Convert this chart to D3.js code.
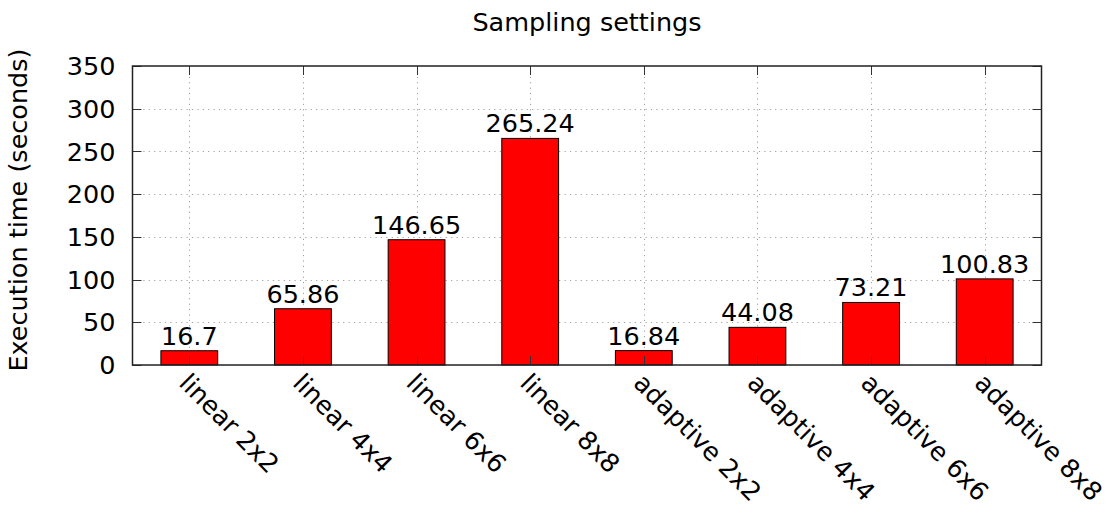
<!DOCTYPE html>
<html>
<head>
<meta charset="utf-8">
<script src="https://cdn.jsdelivr.net/npm/d3@7"></script>
<style>
  html, body { margin: 0; padding: 0; background: #fff; }
  svg { display: block; font-family: "DejaVu Sans", sans-serif; }
</style>
</head>
<body>
<svg id="chart" width="1107" height="506"></svg>
<script>
// Execution time per sampling configuration
const categories = ["linear 2x2", "linear 4x4", "linear 6x6", "linear 8x8",
                    "adaptive 2x2", "adaptive 4x4", "adaptive 6x6", "adaptive 8x8"];
const times = [16.7, 65.86, 146.65, 265.24, 16.84, 44.08, 73.21, 100.83];
const timeLabels = ["16.7", "65.86", "146.65", "265.24", "16.84", "44.08", "73.21", "100.83"];
const yTicks = [0, 50, 100, 150, 200, 250, 300, 350];

const W = 1107, H = 506;
const margin = { left: 132.5, right: W - 1041.5, top: 66, bottom: H - 365 };
const fontSize = 25.5;
const svg = d3.select("#chart");

const x = d3.scaleLinear().domain([-0.5, categories.length - 0.5])
  .range([margin.left, W - margin.right]);
const y = d3.scaleLinear().domain([0, 350]).range([H - margin.bottom, margin.top]);
const barW = x(0.5) - x(0);
const tickLen = 9;

// grid
const grid = svg.append("g").attr("stroke", "#a0a0a0").attr("stroke-width", 1)
  .attr("stroke-dasharray", "1.2,4.2");
grid.selectAll("line.h").data(yTicks.slice(1, -1)).join("line")
  .attr("x1", x.range()[0]).attr("x2", x.range()[1])
  .attr("y1", d => Math.round(y(d)) + 0.5).attr("y2", d => Math.round(y(d)) + 0.5);
grid.selectAll("line.v").data(categories.map((c, i) => i)).join("line")
  .attr("x1", d => Math.round(x(d)) + 0.5).attr("x2", d => Math.round(x(d)) + 0.5)
  .attr("y1", y.range()[1]).attr("y2", y.range()[0]);

// bars
svg.append("g").selectAll("rect").data(times).join("rect")
  .attr("x", (d, i) => x(i) - barW / 2)
  .attr("width", barW)
  .attr("y", d => y(d))
  .attr("height", d => y(0) - y(d))
  .attr("fill", "#ff0000")
  .attr("stroke", "#000")
  .attr("stroke-width", 1);

// value labels
svg.append("g").selectAll("text").data(times).join("text")
  .attr("x", (d, i) => x(i))
  .attr("y", d => y(d) - 6)
  .attr("text-anchor", "middle")
  .attr("font-size", fontSize)
  .attr("fill", "#000")
  .text((d, i) => timeLabels[i]);

// ticks (inward, mirrored)
const ticks = svg.append("g").attr("stroke", "#333").attr("stroke-width", 1);
yTicks.forEach(t => {
  const yy = Math.round(y(t)) + 0.5;
  ticks.append("line").attr("x1", x.range()[0]).attr("x2", x.range()[0] + tickLen).attr("y1", yy).attr("y2", yy);
  ticks.append("line").attr("x1", x.range()[1]).attr("x2", x.range()[1] - tickLen).attr("y1", yy).attr("y2", yy);
});
categories.forEach((c, i) => {
  const xx = Math.round(x(i)) + 0.5;
  ticks.append("line").attr("x1", xx).attr("x2", xx).attr("y1", y.range()[0]).attr("y2", y.range()[0] - tickLen);
  ticks.append("line").attr("x1", xx).attr("x2", xx).attr("y1", y.range()[1]).attr("y2", y.range()[1] + tickLen);
});

// border
svg.append("rect")
  .attr("x", x.range()[0]).attr("y", y.range()[1])
  .attr("width", x.range()[1] - x.range()[0])
  .attr("height", y.range()[0] - y.range()[1])
  .attr("fill", "none").attr("stroke", "#222").attr("stroke-width", 1.5);

// y tick labels
svg.append("g").selectAll("text").data(yTicks).join("text")
  .attr("x", x.range()[0] - 17)
  .attr("y", d => y(d))
  .attr("dy", "0.36em")
  .attr("text-anchor", "end")
  .attr("font-size", fontSize)
  .text(d => d);

// x tick labels, rotated
svg.append("g").selectAll("text").data(categories).join("text")
  .attr("transform", (d, i) => `translate(${x(i) - 5},${y(0) + 13}) rotate(45)`)
  .attr("dy", "0.36em")
  .attr("text-anchor", "start")
  .attr("font-size", fontSize)
  .text(d => d);

// title
svg.append("text")
  .attr("x", (x.range()[0] + x.range()[1]) / 2)
  .attr("y", 31)
  .attr("text-anchor", "middle")
  .attr("font-size", fontSize)
  .text("Sampling settings");

// y axis title
svg.append("text")
  .attr("transform", `translate(27,210) rotate(-90)`)
  .attr("text-anchor", "middle")
  .attr("font-size", fontSize)
  .text("Execution time (seconds)");
</script>
</body>
</html>
